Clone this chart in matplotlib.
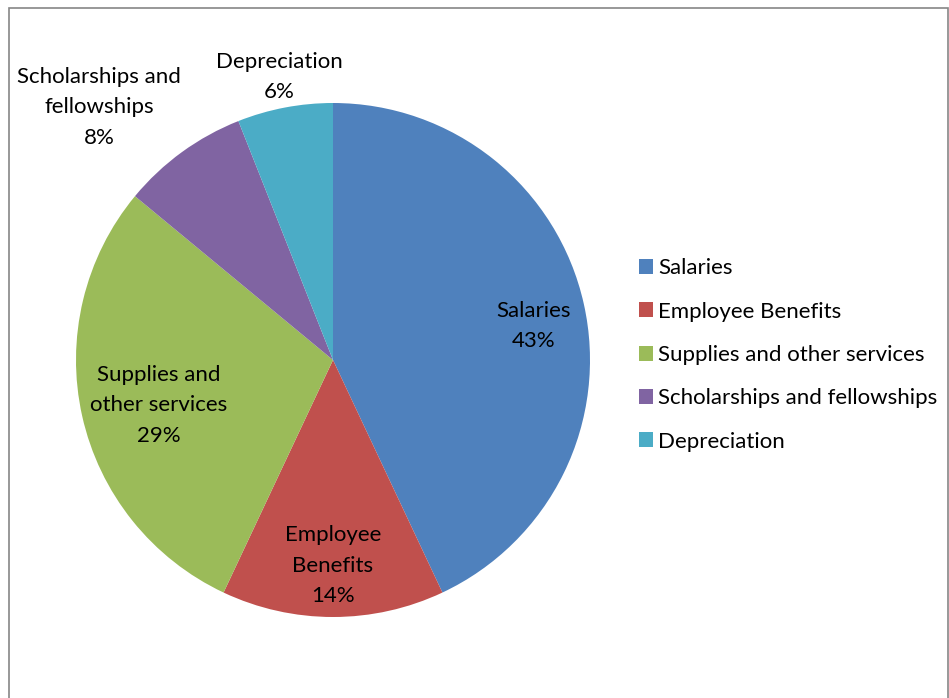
import numpy as np
import matplotlib
matplotlib.use("Agg")
import matplotlib.pyplot as plt
from matplotlib.patches import Rectangle

plt.rcParams["font.family"] = ["Lato", "DejaVu Sans"]

# Data
categories = ["Salaries", "Employee Benefits", "Supplies and other services",
              "Scholarships and fellowships", "Depreciation"]
label_text = ["Salaries", "Employee\nBenefits", "Supplies and\nother services",
              "Scholarships and\nfellowships", "Depreciation"]
shares = [43, 14, 29, 8, 6]
colors = ["#4F81BD", "#C0504D", "#9BBB59", "#8064A2", "#4BACC6"]

# label placement (radius fraction, angle offset deg)
label_r = [0.79, 0.80, 0.70, 1.34, 1.12]
label_dang = [-2.9, 0.0, 2.0, 6.8, 0.0]

W, H = 949, 698
fig = plt.figure(figsize=(W / 100, H / 100), dpi=100)

# outer chart border (Excel style)
fig.patches.append(Rectangle((8.5 / W, -0.1), (939) / W, (H - 8.5) / H + 0.1,
                             transform=fig.transFigure, fill=False,
                             edgecolor="#868686", linewidth=1.2))

cx, cy, R = 333, 360, 257
ax = fig.add_axes([(cx - R) / W, (H - cy - R) / H, 2 * R / W, 2 * R / H])
wedges, _ = ax.pie(shares, colors=colors, startangle=90, counterclock=False,
                   radius=1.0, wedgeprops=dict(linewidth=0))
ax.set_xlim(-1, 1)
ax.set_ylim(-1, 1)
ax.set_aspect("equal")
ax.axis("off")

for w, txt, v, r, da in zip(wedges, label_text, shares, label_r, label_dang):
    ang = np.deg2rad((w.theta1 + w.theta2) / 2 + da)
    ax.text(r * np.cos(ang), r * np.sin(ang), f"{txt}\n{v}%",
            ha="center", va="center", fontsize=16, color="black",
            linespacing=1.65, clip_on=False)

# legend
handles = [Rectangle((0, 0), 1, 1, facecolor=c, edgecolor="none") for c in colors]
fig.legend(handles, categories, loc="center left",
           bbox_to_anchor=(639 / W, 1 - 355 / H), frameon=False,
           fontsize=16, handlelength=0.65, handleheight=0.65,
           handletextpad=0.2, labelspacing=1.05, borderpad=0, borderaxespad=0)

fig.savefig("out.png", dpi=100, facecolor="white")
